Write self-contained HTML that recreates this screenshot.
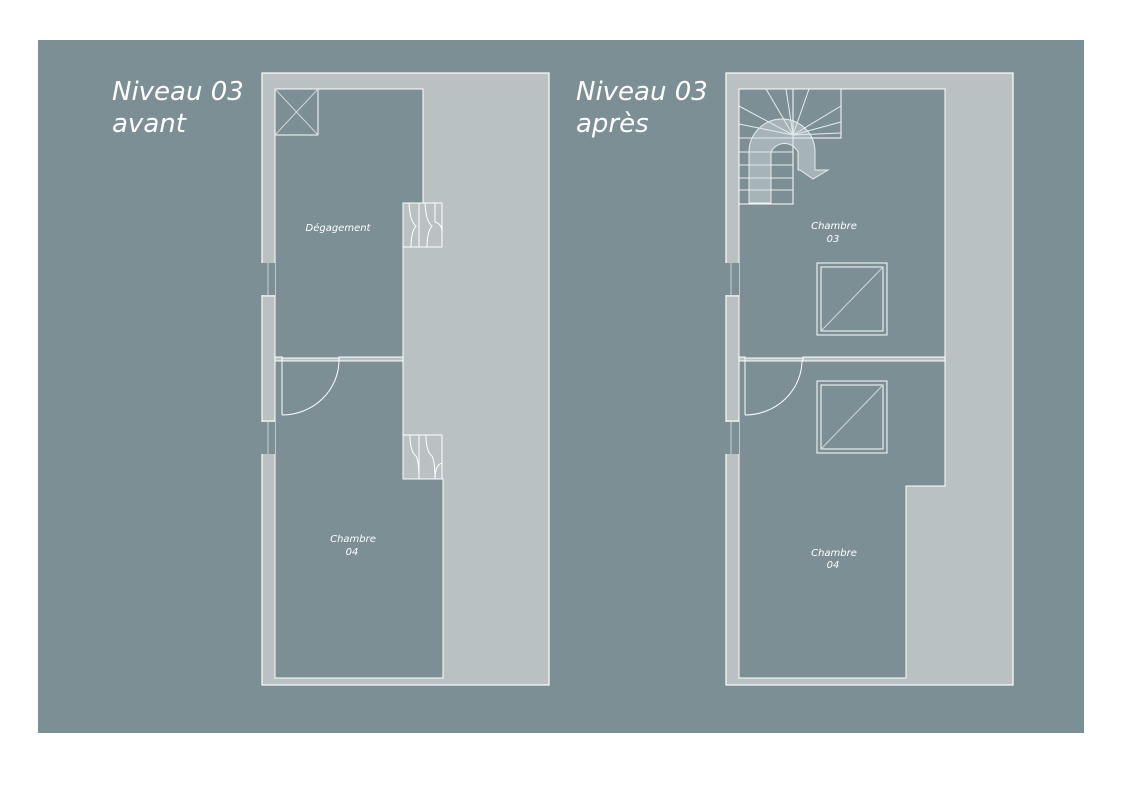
<!DOCTYPE html>
<html><head><meta charset="utf-8"><style>
html,body{margin:0;padding:0;background:#fff;}
svg{display:block;}
text{font-family:"DejaVu Sans","Liberation Sans",sans-serif;font-style:italic;fill:#fff;}
</style></head><body>
<svg width="1122" height="793" viewBox="0 0 1122 793" xmlns="http://www.w3.org/2000/svg">
<rect x="0" y="0" width="1122" height="793" fill="#fff"/>
<rect x="38" y="40" width="1046" height="693" fill="#7b8f95"/>
<text x="112" y="100" font-size="26">Niveau 03</text>
<text x="112" y="132" font-size="26">avant</text>
<text x="576" y="100" font-size="26">Niveau 03</text>
<text x="576" y="132" font-size="26">après</text>

<!-- LEFT PLAN -->
<g stroke="#fff" stroke-width="1" fill="none">
<rect x="262" y="73" width="287" height="612" fill="#b9c1c3" stroke="#fff" stroke-width="1.2"/>
<polygon points="275,89 423,89 423,203 403,203 403,358 275,358" fill="#7b8f95" stroke-width="1"/>
<polygon points="275,361 403,361 403,479 443,479 443,678 275,678" fill="#7b8f95"/>
<!-- window gaps -->
<rect x="261" y="263" width="14" height="32" fill="#7b8f95" stroke="none"/>
<rect x="261" y="422" width="14" height="32" fill="#7b8f95" stroke="none"/>
<line x1="268" y1="263" x2="268" y2="295" stroke="#c8d0d2"/>
<line x1="268" y1="422" x2="268" y2="454" stroke="#c8d0d2"/>
<rect x="262" y="296" width="13" height="125" fill="#b9c1c3" stroke="#fff"/>
<!-- partition -->
<rect x="275" y="357" width="7" height="4" fill="#b9c1c3"/>
<rect x="339" y="357" width="64" height="4" fill="#b9c1c3"/>
<!-- door -->
<line x1="282" y1="361" x2="282" y2="415"/>
<path d="M282,415 A57,55 0 0 0 339,360"/>
<!-- skylight X -->
<rect x="275" y="89" width="43" height="46"/>
<line x1="275" y1="89" x2="318" y2="135" stroke="#d0d6d8"/>
<line x1="318" y1="89" x2="275" y2="135" stroke="#d0d6d8"/>
<!-- wardrobes -->
<rect x="403" y="203" width="39" height="44" fill="#b9c1c3"/>
<line x1="419" y1="203" x2="419" y2="247"/>
<path d="M409,203 Q410,222 416,226 Q411,232 411,247"/>
<path d="M425,203 Q426,222 432,226 Q427,232 427,247"/>
<path d="M435,203 L435,222 Q442,224 442,232"/>
<rect x="403" y="435" width="39" height="44" fill="#b9c1c3"/>
<line x1="419" y1="435" x2="419" y2="479"/>
<path d="M410,435 Q410,452 416,456 Q419,462 419,479"/>
<path d="M426,435 Q426,452 432,456 Q435,462 435,479"/>
<path d="M442,463 Q435,465 435,479"/>
</g>
<text x="338" y="231" font-size="10" text-anchor="middle">Dégagement</text>
<text x="353" y="542" font-size="10" text-anchor="middle">Chambre</text>
<text x="352" y="555" font-size="10" text-anchor="middle">04</text>

<!-- RIGHT PLAN -->
<g stroke="#fff" stroke-width="1" fill="none">
<rect x="726" y="73" width="287" height="612" fill="#b9c1c3" stroke="#fff" stroke-width="1.2"/>
<polygon points="739,89 945,89 945,358 739,358" fill="#7b8f95"/>
<polygon points="739,361 945,361 945,486 906,486 906,678 739,678" fill="#7b8f95"/>
<rect x="725" y="263" width="14" height="32" fill="#7b8f95" stroke="none"/>
<rect x="725" y="422" width="14" height="32" fill="#7b8f95" stroke="none"/>
<line x1="731" y1="263" x2="731" y2="295" stroke="#c8d0d2"/>
<line x1="731" y1="422" x2="731" y2="454" stroke="#c8d0d2"/>
<rect x="726" y="296" width="13" height="125" fill="#b9c1c3" stroke="#fff"/>
<rect x="739" y="357" width="6" height="4" fill="#b9c1c3"/>
<rect x="803" y="357" width="142" height="4" fill="#b9c1c3"/>
<line x1="745" y1="361" x2="745" y2="415"/>
<path d="M745,415 A57,55 0 0 0 802,360"/>
<!-- windows -->
<rect x="817" y="263" width="70" height="72"/>
<rect x="821" y="267" width="62" height="64"/>
<line x1="821" y1="331" x2="883" y2="267" stroke="#d0d6d8"/>
<rect x="817" y="381" width="70" height="72"/>
<rect x="821" y="385" width="62" height="64"/>
<line x1="821" y1="449" x2="883" y2="385" stroke="#d0d6d8"/>
<!-- stairs -->
<polyline points="739,89 841,89 841,138 793,138 793,204 739,204"/>
<line x1="793" y1="89" x2="793" y2="204"/>
<g stroke="#e8ecec">
<line x1="793" y1="135" x2="786" y2="89"/>
<line x1="793" y1="135" x2="766" y2="89"/>
<line x1="793" y1="135" x2="809" y2="89"/>
<line x1="793" y1="135" x2="739" y2="106"/>
<line x1="793" y1="135" x2="739" y2="124"/>
<line x1="793" y1="135" x2="841" y2="106"/>
<line x1="793" y1="135" x2="841" y2="122"/>
<line x1="793" y1="135" x2="841" y2="133"/>
<line x1="739" y1="138" x2="793" y2="138"/>
<line x1="739" y1="152" x2="793" y2="152"/>
<line x1="739" y1="165" x2="793" y2="165"/>
<line x1="739" y1="178" x2="793" y2="178"/>
<line x1="739" y1="190" x2="793" y2="190"/>
</g>
<path d="M749,203 L749,152 A33,33 0 0 1 815,152 L815,170 L828,170 L813,179 L800,170 L800,170 L798,170 L798,152 A15,15 0 0 0 771,152 L771,203 Z" fill="rgba(220,226,228,0.45)" stroke="#e8ecec"/>
</g>
<text x="834" y="229" font-size="10" text-anchor="middle">Chambre</text>
<text x="833" y="242" font-size="10" text-anchor="middle">03</text>
<text x="834" y="556" font-size="10" text-anchor="middle">Chambre</text>
<text x="833" y="568" font-size="10" text-anchor="middle">04</text>
</svg>
</body></html>
